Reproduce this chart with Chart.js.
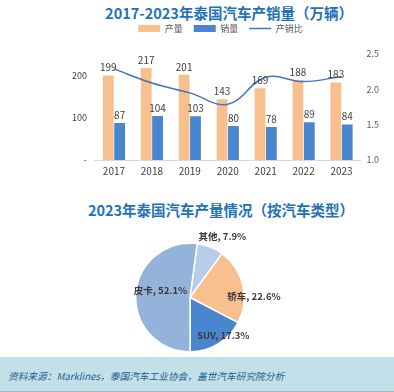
<!DOCTYPE html>
<html>
<head>
<meta charset="utf-8">
<script src="https://cdn.jsdelivr.net/npm/chart.js@4.4.0/dist/chart.umd.min.js"></script>
<style>
  body { margin: 0; width: 394px; height: 392px; background: #fff; position: relative; overflow: hidden; font-family: "Noto Sans CJK SC", sans-serif; }
  .title { position: absolute; width: 394px; text-align: center; font-weight: bold; color: #2272b9; font-size: 14.5px; line-height: 18px; white-space: nowrap; }
  #t1 { top: 4px; left: 32px; }
  #t2 { top: 201px; left: 24px; }
  #box1 { position: absolute; left: 0; top: 0; width: 394px; height: 186px; }
  #box2 { position: absolute; left: 0; top: 186px; width: 394px; height: 171px; }
  #foot { position: absolute; left: 0; top: 357px; width: 394px; height: 34px; background: #c2e0ea; border-bottom: 1px solid #a9b8bd; }
  #foot span { position: absolute; left: 8px; top: 13px; font-style: italic; font-size: 9.7px; line-height: 12px; color: #1f5f8e; white-space: nowrap; }
</style>
</head>
<body>
<div class="title" id="t1">2017-2023年泰国汽车产销量（万辆）</div>
<div id="box1"><canvas id="barLine"></canvas></div>
<div class="title" id="t2">2023年泰国汽车产量情况（按汽车类型）</div>
<div id="box2"><canvas id="pieType"></canvas></div>
<div id="foot"><span>资料来源：Marklines，泰国汽车工业协会，盖世汽车研究院分析</span></div>
<script>
const years = ['2017', '2018', '2019', '2020', '2021', '2022', '2023'];
const production = [199, 217, 201, 143, 169, 188, 183];
const sales = [87, 104, 103, 80, 78, 89, 84];
const ratio = [2.29, 2.09, 1.95, 1.79, 2.17, 2.11, 2.18];

const types = ['其他', '轿车', 'SUV', '皮卡'];
const typeShare = [7.9, 22.6, 17.3, 52.1];

const orange = '#f9c08f';
const blue = '#4a86d0';

// push the plot down below the legend, and nudge the legend a bit left
const legendTweak = {
  id: 'legendTweak',
  beforeInit(chart) {
    const legend = chart.legend;
    const fit = legend.fit;
    legend.fit = function () {
      fit.bind(legend)();
      this.height += 11;
    };
    const draw = legend.draw;
    legend.draw = function (area) {
      const c = this.ctx;
      c.save();
      c.translate(-4, 0);
      draw.call(legend, area);
      c.restore();
    };
  }
};

// numbers on top of the bars
const barValues = {
  id: 'barValues',
  afterDatasetsDraw(chart) {
    const ctx = chart.ctx;
    ctx.save();
    ctx.font = '10px "Noto Sans CJK SC"';
    ctx.fillStyle = '#404040';
    ctx.textAlign = 'center';
    ctx.textBaseline = 'bottom';
    chart.data.datasets.forEach((ds, i) => {
      if (ds.type !== 'bar') return;
      chart.getDatasetMeta(i).data.forEach((bar, j) => {
        ctx.fillText(ds.data[j], bar.x, bar.y - 3);
      });
    });
    ctx.restore();
  }
};

new Chart(document.getElementById('barLine').getContext('2d'), {
  data: {
    labels: years,
    datasets: [
      {
        type: 'bar',
        label: '产量',
        data: production,
        backgroundColor: orange,
        pointStyle: 'rect',
        yAxisID: 'y',
        order: 1,
        categoryPercentage: 0.6,
        barPercentage: 0.95
      },
      {
        type: 'bar',
        label: '销量',
        data: sales,
        backgroundColor: blue,
        pointStyle: 'rect',
        yAxisID: 'y',
        order: 1,
        categoryPercentage: 0.6,
        barPercentage: 0.95
      },
      {
        type: 'line',
        label: '产销比',
        data: ratio,
        borderColor: '#4472c4',
        backgroundColor: '#4472c4',
        borderWidth: 1.5,
        pointRadius: 0,
        pointStyle: 'line',
        tension: 0.4,
        yAxisID: 'y1',
        order: 0
      }
    ]
  },
  options: {
    responsive: true,
    maintainAspectRatio: false,
    animation: false,
    layout: { padding: { top: 13, left: 64, right: 9, bottom: 4 } },
    plugins: {
      legend: {
        display: true,
        position: 'top',
        labels: {
          usePointStyle: true,
          pointStyleWidth: 22,
          boxHeight: 7,
          padding: 11,
          color: '#595959',
          font: { size: 9, family: '"Noto Sans CJK SC"' },
          sort: (a, b) => a.datasetIndex - b.datasetIndex
        }
      },
      tooltip: { enabled: false }
    },
    scales: {
      x: {
        grid: { display: false, drawTicks: false },
        border: { display: true, color: '#d9d9d9' },
        ticks: { color: '#404040', padding: 5, font: { size: 10, family: '"Noto Sans CJK SC"' } }
      },
      y: {
        position: 'left',
        min: 0,
        max: 250,
        grid: { display: false, drawTicks: false },
        border: { display: false },
        ticks: {
          stepSize: 100,
          padding: 8,
          color: '#404040',
          font: { size: 9, family: '"Noto Sans CJK SC"' },
          callback: (v) => (v === 0 ? '-' : v > 200 ? '' : v)
        }
      },
      y1: {
        position: 'right',
        min: 1,
        max: 2.5,
        grid: { display: false, drawTicks: false },
        border: { display: false },
        ticks: {
          stepSize: 0.5,
          padding: 6,
          color: '#595959',
          font: { size: 9, family: '"Noto Sans CJK SC"' },
          callback: (v) => v.toFixed(1)
        }
      }
    }
  },
  plugins: [legendTweak, barValues]
});

// pie labels, placed around each slice's middle angle
const labelRadius = [1.28, 1.18, 0.93, 0.56];
const labelTurn = [6, 12, -10, 10];
const pieLabels = {
  id: 'pieLabels',
  afterDatasetsDraw(chart) {
    const ctx = chart.ctx;
    ctx.save();
    ctx.font = 'bold 9.5px "Noto Sans CJK SC"';
    ctx.fillStyle = '#3a3a3a';
    ctx.textAlign = 'center';
    ctx.textBaseline = 'middle';
    chart.getDatasetMeta(0).data.forEach((arc, i) => {
      const mid = (arc.startAngle + arc.endAngle) / 2 + labelTurn[i] * Math.PI / 180;
      const r = arc.outerRadius * labelRadius[i];
      const x = arc.x + Math.cos(mid) * r;
      const y = arc.y + Math.sin(mid) * r;
      ctx.fillText(types[i] + ', ' + typeShare[i].toFixed(1) + '%', x, y);
    });
    ctx.restore();
  }
};

new Chart(document.getElementById('pieType').getContext('2d'), {
  type: 'pie',
  data: {
    labels: types,
    datasets: [{
      data: typeShare,
      backgroundColor: ['#b7cce8', orange, blue, '#94b3db'],
      borderColor: '#ffffff',
      borderWidth: 1.5
    }]
  },
  options: {
    responsive: true,
    maintainAspectRatio: false,
    animation: false,
    rotation: 7.6,
    layout: { padding: { top: 56, left: 135, right: 149, bottom: 4 } },
    plugins: {
      legend: { display: false },
      tooltip: { enabled: false }
    }
  },
  plugins: [pieLabels]
});
</script>
</body>
</html>
